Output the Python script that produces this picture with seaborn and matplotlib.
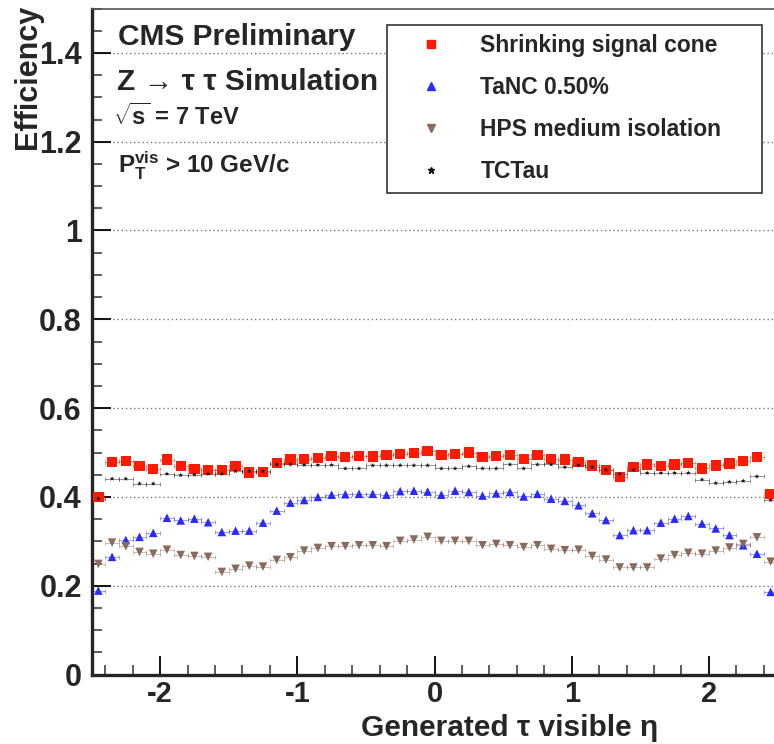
import numpy as np
import pandas as pd
import matplotlib
matplotlib.use("Agg")
import matplotlib.pyplot as plt
from matplotlib.ticker import MultipleLocator, FuncFormatter
from matplotlib.lines import Line2D
import seaborn as sns

# ---------------- data ----------------
eta = np.linspace(-2.45, 2.45, 50)          # bin centres (bin width 0.1)
half_bin = 0.05

shrinking = [0.400, 0.479, 0.481, 0.470, 0.463, 0.484, 0.470, 0.463, 0.461, 0.460,
             0.469, 0.455, 0.456, 0.477, 0.484, 0.486, 0.488, 0.492, 0.490, 0.492,
             0.491, 0.494, 0.496, 0.499, 0.503, 0.494, 0.497, 0.500, 0.490, 0.492,
             0.494, 0.486, 0.494, 0.485, 0.484, 0.479, 0.471, 0.461, 0.445, 0.467,
             0.473, 0.469, 0.473, 0.476, 0.464, 0.471, 0.475, 0.481, 0.490, 0.406]

tanc = [0.189, 0.265, 0.303, 0.310, 0.319, 0.353, 0.347, 0.351, 0.343, 0.321,
        0.324, 0.324, 0.342, 0.369, 0.387, 0.393, 0.400, 0.405, 0.406, 0.407,
        0.407, 0.405, 0.413, 0.414, 0.412, 0.405, 0.414, 0.411, 0.403, 0.408,
        0.411, 0.401, 0.407, 0.396, 0.391, 0.381, 0.363, 0.348, 0.314, 0.325,
        0.325, 0.342, 0.351, 0.357, 0.340, 0.329, 0.314, 0.291, 0.272, 0.186]

hps = [0.249, 0.297, 0.289, 0.276, 0.272, 0.281, 0.269, 0.267, 0.265, 0.231,
       0.238, 0.245, 0.243, 0.258, 0.264, 0.279, 0.285, 0.289, 0.289, 0.291,
       0.291, 0.289, 0.301, 0.304, 0.310, 0.301, 0.301, 0.301, 0.291, 0.294,
       0.291, 0.287, 0.291, 0.283, 0.280, 0.281, 0.267, 0.259, 0.241, 0.241,
       0.241, 0.261, 0.269, 0.274, 0.272, 0.279, 0.286, 0.294, 0.309, 0.254]

tctau = [0.396, 0.441, 0.441, 0.430, 0.430, 0.452, 0.449, 0.450, 0.452, 0.452,
         0.458, 0.458, 0.458, 0.473, 0.473, 0.472, 0.472, 0.472, 0.464, 0.464,
         0.471, 0.471, 0.471, 0.471, 0.471, 0.464, 0.464, 0.469, 0.464, 0.464,
         0.473, 0.464, 0.473, 0.473, 0.467, 0.471, 0.467, 0.461, 0.452, 0.461,
         0.454, 0.454, 0.454, 0.454, 0.439, 0.431, 0.434, 0.436, 0.446, 0.393]

labels = ["Shrinking signal cone", "TaNC 0.50%", "HPS medium isolation", "TCTau"]
series = [shrinking, tanc, hps, tctau]
colors = ["#ff1a00", "#2a2aff", "#8a6a5c", "#111111"]
markers = ["s", "^", "v", "*"]
sizes = [55, 38, 38, 14]

# ---------------- style ----------------
sns.set_style("ticks")
FONT = ["Liberation Sans", "DejaVu Sans"]
plt.rcParams["font.family"] = FONT
plt.rcParams["font.weight"] = "bold"
plt.rcParams["axes.unicode_minus"] = False
plt.rcParams["mathtext.fontset"] = "custom"
plt.rcParams["mathtext.rm"] = "Liberation Sans:bold"
plt.rcParams["mathtext.bf"] = "Liberation Sans:bold"
plt.rcParams["mathtext.it"] = "Liberation Sans:bold"

W, H = 774, 744
fig = plt.figure(figsize=(W / 100, H / 100), dpi=100)
left_px, right_px, top_px, bot_px = 91.5, 777.5, 8.5, 674.5
ax = fig.add_axes([left_px / W, 1 - bot_px / H, (right_px - left_px) / W, (bot_px - top_px) / H])

df = pd.DataFrame({"eta": np.tile(eta, 4),
                   "eff": np.concatenate(series),
                   "algo": np.repeat(labels, len(eta))})

for lab, col, mk, sz in zip(labels, colors, markers, sizes):
    sub = df[df["algo"] == lab]
    ax.errorbar(sub["eta"], sub["eff"], xerr=half_bin, fmt="none", ecolor=col,
                elinewidth=0.7, capsize=1.5, capthick=0.7, alpha=0.45, zorder=2)
    sns.scatterplot(data=sub, x="eta", y="eff", marker=mk, color=col, s=sz,
                    edgecolor="none", linewidth=0, ax=ax, zorder=3, legend=False)

ax.set_xlim(-2.5, 2.5)
ax.set_ylim(0, 1.5)
ax.xaxis.set_major_locator(MultipleLocator(1))
ax.xaxis.set_minor_locator(MultipleLocator(0.2))
ax.yaxis.set_major_locator(MultipleLocator(0.2))
ax.yaxis.set_minor_locator(MultipleLocator(0.05))
ax.yaxis.set_major_formatter(FuncFormatter(lambda v, p: "%g" % round(v, 2)))
ax.xaxis.set_major_formatter(FuncFormatter(lambda v, p: "%g" % round(v, 2)))
ax.tick_params(axis="both", which="major", direction="in", length=14, width=1.3,
               labelsize=22, color="black")
ax.tick_params(axis="x", which="major", labelsize=21, pad=4)
ax.tick_params(axis="both", which="minor", direction="in", length=7, width=1.1,
               color="#333333")
ax.tick_params(axis="y", which="major", pad=7)
for lab in ax.get_xticklabels() + ax.get_yticklabels():
    lab.set_fontweight("bold")

ax.yaxis.grid(True, which="major", linestyle=(0, (1, 2)), color="#777777", linewidth=1.0)
ax.xaxis.grid(False)
ax.set_axisbelow(True)

ax.spines["left"].set_linewidth(2.4)
ax.spines["bottom"].set_linewidth(2.4)
ax.spines["top"].set_linewidth(1.2)
ax.spines["top"].set_color("#555555")
ax.spines["right"].set_linewidth(1.2)
ax.set_xlabel("")
ax.set_ylabel("")

# axis titles
fig.text(658 / W, 1 - 736 / H, "Generated τ visible η", ha="right", va="baseline",
         fontsize=21.5, fontweight="bold", family=FONT)
fig.text(28 / W, 1 - 5 / H, "Efficiency", ha="center", va="top", rotation=90,
         fontsize=22, fontweight="bold", family=FONT)

# annotations
fig.text(118 / W, 1 - 45 / H, "CMS Preliminary", ha="left", va="baseline",
         fontsize=21.5, fontweight="bold", family=FONT)
fig.text(117 / W, 1 - 90 / H, "Z → τ τ Simulation", ha="left", va="baseline",
         fontsize=21.5, fontweight="bold", family=FONT)
fig.text(113 / W, 1 - 125 / H, r"$\sqrt{\mathrm{s}}$ = 7 TeV", ha="left", va="baseline",
         fontsize=17, fontweight="bold", family=FONT)
fig.text(118 / W, 1 - 173 / H, r"P$_{\mathrm{T}}^{\mathrm{vis}}$ > 10 GeV/c", ha="left",
         va="baseline", fontsize=17.5, fontweight="bold", family=FONT)

# legend
handles = [Line2D([], [], linestyle="none", marker=mk, color=col, markersize=ms)
           for col, mk, ms in zip(colors, markers, [6, 6, 6, 4.5])]
leg = ax.legend(handles, labels, loc="upper left",
                bbox_to_anchor=(0.431, 0.7275, 0.546, 0.2475), mode="expand",
                prop={"family": FONT, "weight": "bold", "size": 16.5},
                frameon=True, fancybox=False, framealpha=1, edgecolor="#333333",
                borderpad=0.4, labelspacing=0.83, handlelength=3.0,
                handletextpad=0.67, borderaxespad=0)
leg.get_frame().set_linewidth(1.2)

fig.savefig("out.png", dpi=100)
